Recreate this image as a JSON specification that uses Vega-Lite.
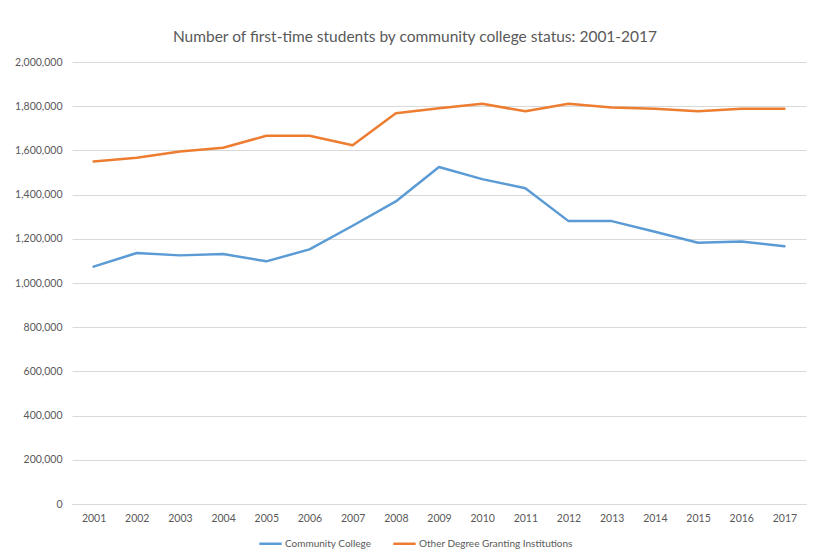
{
  "$schema": "https://vega.github.io/schema/vega-lite/v6.json",
  "width": 734,
  "height": 442,
  "autosize": {"type": "none"},
  "padding": {"left": 72, "top": 62, "right": 16, "bottom": 52},
  "background": "white",
  "title": {
    "text": "Number of first-time students by community college status: 2001-2017",
    "font": "Lato",
    "fontSize": 15.5,
    "fontWeight": "normal",
    "color": "#595959",
    "anchor": "middle",
    "dx": -24,
    "offset": 12
  },
  "data": {
    "values": [
      {"year": "2001", "series": "Community College", "value": 1074000},
      {"year": "2002", "series": "Community College", "value": 1136000},
      {"year": "2003", "series": "Community College", "value": 1125000},
      {"year": "2004", "series": "Community College", "value": 1131000},
      {"year": "2005", "series": "Community College", "value": 1098000},
      {"year": "2006", "series": "Community College", "value": 1152000},
      {"year": "2007", "series": "Community College", "value": 1259000},
      {"year": "2008", "series": "Community College", "value": 1369000},
      {"year": "2009", "series": "Community College", "value": 1525000},
      {"year": "2010", "series": "Community College", "value": 1470000},
      {"year": "2011", "series": "Community College", "value": 1429000},
      {"year": "2012", "series": "Community College", "value": 1280000},
      {"year": "2013", "series": "Community College", "value": 1280000},
      {"year": "2014", "series": "Community College", "value": 1232000},
      {"year": "2015", "series": "Community College", "value": 1182000},
      {"year": "2016", "series": "Community College", "value": 1188000},
      {"year": "2017", "series": "Community College", "value": 1166000},
      {"year": "2001", "series": "Other Degree Granting Institutions", "value": 1550000},
      {"year": "2002", "series": "Other Degree Granting Institutions", "value": 1567000},
      {"year": "2003", "series": "Other Degree Granting Institutions", "value": 1595000},
      {"year": "2004", "series": "Other Degree Granting Institutions", "value": 1612000},
      {"year": "2005", "series": "Other Degree Granting Institutions", "value": 1666000},
      {"year": "2006", "series": "Other Degree Granting Institutions", "value": 1666000},
      {"year": "2007", "series": "Other Degree Granting Institutions", "value": 1623000},
      {"year": "2008", "series": "Other Degree Granting Institutions", "value": 1768000},
      {"year": "2009", "series": "Other Degree Granting Institutions", "value": 1791000},
      {"year": "2010", "series": "Other Degree Granting Institutions", "value": 1811000},
      {"year": "2011", "series": "Other Degree Granting Institutions", "value": 1777000},
      {"year": "2012", "series": "Other Degree Granting Institutions", "value": 1811000},
      {"year": "2013", "series": "Other Degree Granting Institutions", "value": 1794000},
      {"year": "2014", "series": "Other Degree Granting Institutions", "value": 1788000},
      {"year": "2015", "series": "Other Degree Granting Institutions", "value": 1777000},
      {"year": "2016", "series": "Other Degree Granting Institutions", "value": 1788000},
      {"year": "2017", "series": "Other Degree Granting Institutions", "value": 1788000}
    ]
  },
  "mark": {"type": "line", "strokeWidth": 2.5, "strokeJoin": "round", "strokeCap": "round"},
  "encoding": {
    "x": {
      "field": "year",
      "type": "ordinal",
      "scale": {"type": "point", "padding": 0.5},
      "axis": {
        "title": null,
        "labelAngle": 0,
        "ticks": false,
        "domain": true,
        "domainColor": "#d9d9d9",
        "domainWidth": 1,
        "labelPadding": 9,
        "grid": false
      }
    },
    "y": {
      "field": "value",
      "type": "quantitative",
      "scale": {"domain": [0, 2000000], "nice": false},
      "axis": {
        "title": null,
        "values": [0, 200000, 400000, 600000, 800000, 1000000, 1200000, 1400000, 1600000, 1800000, 2000000],
        "format": ",d",
        "ticks": false,
        "domain": false,
        "grid": true,
        "gridColor": "#d9d9d9",
        "gridWidth": 1,
        "labelPadding": 10
      }
    },
    "color": {
      "field": "series",
      "type": "nominal",
      "scale": {
        "domain": ["Community College", "Other Degree Granting Institutions"],
        "range": ["#5B9BD5", "#ED7D31"]
      },
      "legend": {
        "title": null,
        "orient": "none",
        "direction": "horizontal",
        "legendX": 186,
        "legendY": 469,
        "symbolType": "stroke",
        "symbolSize": 500,
        "symbolStrokeWidth": 2.5,
        "columnPadding": 16,
        "labelOffset": 2,
        "labelLimit": 0
      }
    }
  },
  "config": {
    "font": "Lato",
    "view": {"stroke": null},
    "axis": {
      "labelFont": "Lato",
      "labelFontSize": 10.5,
      "labelColor": "#595959"
    },
    "legend": {
      "labelFont": "Lato",
      "labelFontSize": 10,
      "labelColor": "#595959"
    }
  }
}
